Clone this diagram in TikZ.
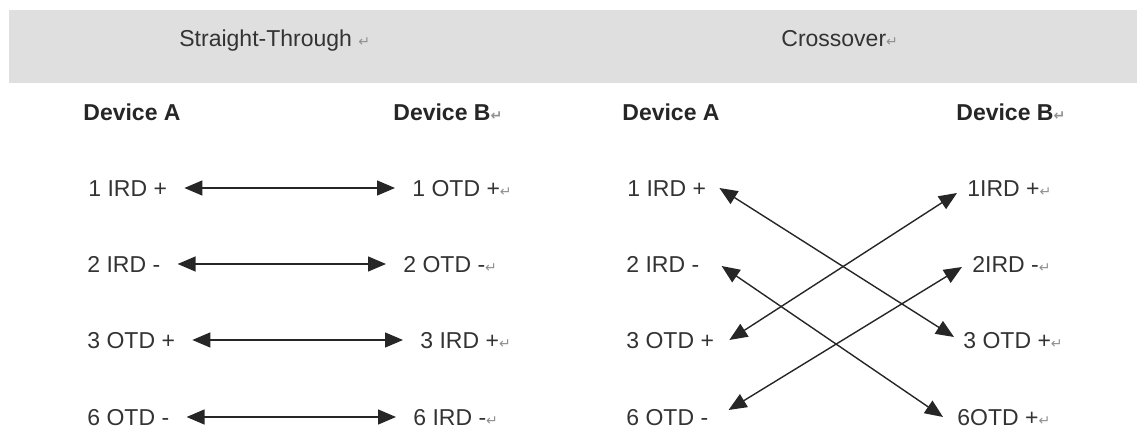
\documentclass[tikz,border=0pt]{standalone}
\usepackage{fontspec}
\setmainfont{Liberation Sans}
\newfontfamily\dejavu{DejaVu Sans}
\usepackage{xcolor}
\usepackage{tikz}
\usetikzlibrary{arrows.meta,calc,positioning}
\definecolor{bandgray}{HTML}{DFDFDF}
\definecolor{textgray}{HTML}{333333}
\definecolor{markgray}{HTML}{909090}
\newcommand{\pmark}{{\color{markgray}\dejavu\fontsize{7}{7}\selectfont ↵}}

\begin{document}
\begin{tikzpicture}[x=0.5pt, y=-0.5pt,
    lbl/.style={anchor=west, inner sep=0pt, text height=8.2pt, text depth=0pt, text=textgray, font=\fontsize{11.5}{13}\selectfont},
    head/.style={lbl, text=black!85, font=\fontsize{11.5}{13}\selectfont\bfseries},
    link/.style={draw=black!85, line width=0.7pt, {Triangle[length=9pt,width=7.5pt]}-{Triangle[length=9pt,width=7.5pt]}}
    ]
    \useasboundingbox (0,0) rectangle (1137,431);
    \fill[bandgray] (9,10) rectangle (1137,83);

    \node[lbl] (straight) at (179,38) {Straight-Through \pmark};
    \node[lbl] (cross) at (781,38) {Crossover\pmark};

    \node[head] (sdeva) at (83,112) {Device A};
    \node[head] (sdevb) at (393,112) {Device B\pmark};
    \node[head] (cdeva) at (622,112) {Device A};
    \node[head] (cdevb) at (956,112) {Device B\pmark};

    \node[lbl] (s1a) at (88,188) {1 IRD +};
    \node[lbl] (s1b) at (412,188) {1 OTD +\pmark};
    \node[lbl] (s2a) at (87,264) {2 IRD -};
    \node[lbl] (s2b) at (403,264) {2 OTD -\pmark};
    \node[lbl] (s3a) at (87,340) {3 OTD +};
    \node[lbl] (s3b) at (420,340) {3 IRD +\pmark};
    \node[lbl] (s6a) at (87,417) {6 OTD -};
    \node[lbl] (s6b) at (413,417) {6 IRD -\pmark};

    \draw[link, shorten <=8.5pt, shorten >=8.5pt] (s1a.east) -- (s1b.west);
    \draw[link, shorten <=8.5pt, shorten >=8.5pt] (s2a.east) -- (s2b.west);
    \draw[link, shorten <=8.5pt, shorten >=8.5pt] (s3a.east) -- (s3b.west);
    \draw[link, shorten <=8.5pt, shorten >=8.5pt] (s6a.east) -- (s6b.west);

    \node[lbl] (c1a) at (627,188) {1 IRD +};
    \node[lbl] (c1b) at (967,188) {1IRD +\pmark};
    \node[lbl] (c2a) at (626,264) {2 IRD -};
    \node[lbl] (c2b) at (972,264) {2IRD -\pmark};
    \node[lbl] (c3a) at (626,340) {3 OTD +};
    \node[lbl] (c3b) at (963,340) {3 OTD +\pmark};
    \node[lbl] (c6a) at (626,417) {6 OTD -};
    \node[lbl] (c6b) at (957,417) {6OTD +\pmark};

    \draw[link] ($(c1a.east)+(13,0)$) -- ($(c3b.west)+(-9,-3)$);
    \draw[link] ($(c3a.east)+(15,0)$) -- ($(c1b.west)+(-10,5)$);
    \draw[link] ($(c2a.east)+(22,2)$) -- ($(c6b.west)+(-14,0)$);
    \draw[link] ($(c6a.east)+(20,-7)$) -- ($(c2b.west)+(-10,3)$);
\end{tikzpicture}
\end{document}
